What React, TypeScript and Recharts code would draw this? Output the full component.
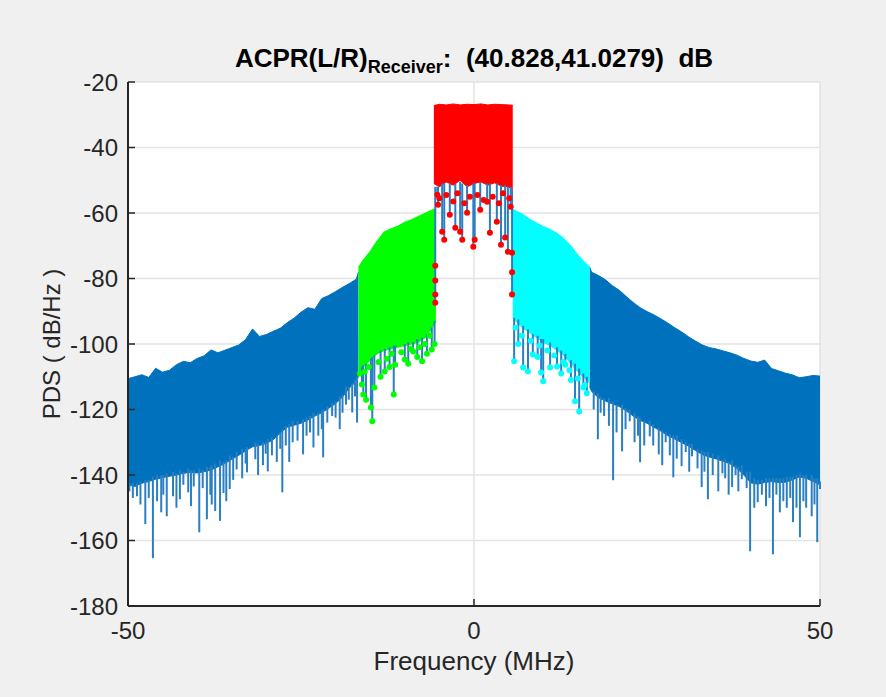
import React from "react";
import { ComposedChart, Area, Scatter, ErrorBar, XAxis, YAxis, CartesianGrid } from "recharts";

// Outer skirts (MHz / dB/Hz): upper and lower edge of the dense trace
const leftFreq = [-50, -49, -48, -47, -46, -45, -44, -43, -42, -41, -40, -39, -38, -37, -36, -35, -34, -33, -32, -31, -30, -29, -28, -27, -26, -25, -24, -23, -22, -21, -20, -19, -18, -17, -16.7];
const leftUpper = [-110.6, -110, -109.4, -110.2, -107.4, -108.6, -108, -106.3, -105.3, -105.7, -104.4, -103.6, -101.8, -102.7, -101.9, -101.1, -100.3, -98.6, -95.4, -97.7, -97.1, -96.1, -95.2, -93.5, -92.1, -90.3, -88.9, -89.4, -86.1, -85.2, -84, -82.7, -81.5, -80.2, -78];
const leftLower = [-143, -143.5, -142.5, -142, -141.3, -140.8, -140.4, -140, -139.5, -139.2, -139.4, -139, -138.5, -137.5, -136.5, -135.2, -134, -132.6, -131.4, -131, -130.4, -129.2, -127.2, -125.4, -124.8, -124.2, -123.2, -122, -121, -119.6, -118.2, -116.2, -113.4, -111.4, -110];

const rightFreq = [16.7, 17, 18, 19, 20, 21, 22, 23, 24, 25, 26, 27, 28, 29, 30, 31, 32, 33, 34, 35, 36, 37, 38, 39, 40, 41, 42, 43, 44, 45, 46, 47, 48, 49, 50];
const rightUpper = [-76.5, -78.1, -79.1, -80.4, -82.2, -83.6, -85.5, -87.3, -88.9, -90.1, -91.1, -92.3, -93.6, -95, -96.3, -97.8, -99.1, -100.3, -101.1, -101.5, -102.1, -102.7, -103.4, -104.4, -105.2, -105.6, -104.9, -107.5, -108.2, -108.9, -109.4, -110.3, -110, -109.6, -109.8];
const rightLower = [-113, -114.5, -116.4, -117.4, -118.3, -119.1, -120.4, -122, -123.3, -124.2, -125.4, -126.6, -128, -129, -130.1, -131.2, -132.5, -133.8, -134.5, -135.1, -135.8, -136.6, -138, -140, -142.4, -142.8, -142.3, -142, -142.3, -142.2, -141.5, -140.6, -141, -142, -143];

// Adjacent channels and main channel
const greenFreq = [-16.7, -16, -15, -14, -13, -12, -11, -10, -9, -8, -7, -6, -5.5];
const greenUpper = [-76.6, -74.3, -71.7, -68.5, -65.8, -64.8, -64, -62.8, -62, -61, -60, -59, -58.6];
const greenLower = [-110, -107, -105, -103, -102, -101.5, -101, -100.5, -100, -99.5, -98, -95, -93];

const cyanFreq = [5.6, 6, 7, 8, 9, 10, 11, 12, 13, 14, 15, 16, 16.7];
const cyanUpper = [-58.8, -59.3, -60.3, -61.8, -63, -64.1, -65, -66.2, -67.8, -70, -72.8, -75, -76.5];
const cyanLower = [-92, -93, -95, -96.5, -98, -99.5, -100.5, -102, -103.5, -106, -108.5, -110.5, -112];

const redFreq = [-5.8, -5, -4, -3, -2, -1, 0, 1, 2, 3, 4, 5, 5.6];
const redUpper = [-27.2, -26.8, -27, -26.7, -27, -26.8, -26.9, -26.7, -27, -26.8, -26.9, -27, -27.1];
const redLower = [-51, -52, -50.5, -51.5, -50, -52, -51, -50.5, -51.5, -50.8, -51.8, -52, -53];

// Deep nulls: [freq, tip, start]
const leftSpikes = [
  [-50, -150, -142], [-49.8, -145, -142.5], [-49.3, -147, -142.5], [-48.7, -146.5, -142.5], [-48.2, -149, -142],
  [-47.5, -155, -141.5], [-47, -147, -141.5], [-46.4, -165.4, -140.5], [-45.8, -148, -140], [-45.2, -151.4, -140],
  [-44.9, -146, -140], [-44.4, -152.6, -139.5], [-43.5, -146.5, -139], [-43, -150, -139.5], [-42.5, -147.4, -138.5],
  [-42, -143, -139], [-41.3, -145.3, -138], [-40.9, -149.5, -138.5], [-40.5, -143.5, -138.5], [-39.7, -157.5, -138],
  [-39.2, -144, -138.5], [-38.6, -153.5, -137.5], [-38.1, -146, -137.5], [-37.9, -149, -137], [-37.4, -151, -136.5],
  [-36.7, -154, -135.5], [-36.2, -145.5, -136], [-35.8, -148, -135.5], [-35.3, -144.3, -134], [-34.8, -141.5, -134.5],
  [-34.3, -138.3, -133], [-33.5, -141, -132], [-33, -136.5, -132], [-32.8, -139.2, -131.5], [-31.6, -135.2, -130],
  [-31.2, -140, -130.5], [-30.5, -137, -130], [-30.1, -133.5, -130], [-29.8, -138.9, -129], [-29.2, -134, -128.5],
  [-28.5, -136, -128], [-28, -132, -127], [-27.7, -145.3, -126], [-27.2, -131, -125], [-26.7, -136, -124.5],
  [-26.2, -130, -123.5], [-25.5, -129.5, -123.5], [-24.7, -133.7, -123], [-24.2, -128, -122.5], [-23.7, -127, -122],
  [-23.2, -131.6, -121], [-22.5, -128, -121], [-22, -126, -120.5], [-21.8, -134.6, -120], [-21.2, -124, -119],
  [-20.5, -122, -118], [-20, -122.5, -117.5], [-19.4, -126, -116], [-19, -121, -115.5], [-18.5, -118.5, -113],
  [-18.1, -117, -113], [-17.6, -120.9, -112], [-17.2, -116, -111], [-16.9, -124, -110],
];
const rightSpikes = [
  [17.3, -120, -114.5], [17.9, -129.1, -115], [18.3, -121, -116], [18.8, -122, -116.5], [19.5, -125, -116.5],
  [20.1, -141.6, -117.5], [20.6, -127, -118.5], [21.4, -132.8, -118.5], [21.9, -126, -119.5], [22.5, -123.6, -120],
  [23.2, -130, -121], [23.7, -128, -122], [24, -136.1, -122.5], [24.6, -131, -123.5], [25.4, -128.2, -123.5],
  [25.9, -131, -124.5], [26.7, -133.7, -125.5], [27.2, -137, -126.5], [27.7, -130, -127], [28.3, -134, -127.5],
  [28.8, -140.7, -128], [29.3, -135, -128], [30, -137.3, -129], [30.6, -133, -130], [31.1, -139, -130.5],
  [31.5, -134.3, -130.5], [32.3, -138, -132], [32.9, -143.7, -132.5], [33.3, -139, -133], [33.8, -147.4, -133],
  [34.5, -140, -133.5], [35.3, -145, -134], [35.9, -139.5, -135.5], [36.3, -141, -135], [36.8, -146, -136],
  [37.3, -143.7, -135.5], [37.8, -140, -137], [38.2, -145, -137.5], [38.7, -141.3, -137], [39.4, -144, -139],
  [39.9, -163.3, -139], [40.5, -150, -141], [41, -148.3, -141.5], [41.6, -146, -141.5], [42.2, -149.5, -141],
  [42.7, -147, -141], [43.2, -164.2, -141], [43.7, -146, -141], [44.2, -151.4, -141], [44.7, -148, -141],
  [45.2, -150, -140.5], [45.7, -147, -140.5], [46.1, -154.4, -140.5], [46.6, -150, -140], [47.1, -159, -139.5],
  [47.6, -148, -140], [48, -150, -140], [48.8, -152.6, -140], [49.2, -149, -141], [49.6, -160.5, -141],
  [50, -144.3, -142],
];
const greenSpikes = [
  [-16.2, -112.4, -107], [-16, -115.4, -106.5], [-15.6, -117, -106], [-14.9, -119.4, -104.5], [-14.7, -123.6, -104],
  [-14.4, -113.3, -103.5], [-13.5, -110, -102], [-12.9, -108.4, -101.5], [-12.2, -107, -101], [-11.6, -115.4, -100.5],
  [-11.4, -106.3, -100.5], [-10, -104.7, -100], [-9.5, -106, -99.5], [-8.8, -102.3, -99.5], [-8.2, -104, -98.5],
  [-7.5, -105.3, -98], [-6.8, -103, -97], [-6.1, -101.7, -95], [-5.7, -100, -93],
];
const cyanSpikes = [
  [5.8, -105.3, -92], [6.4, -100, -92.5], [7.1, -107.2, -94.5], [7.8, -108.4, -95.5], [8.5, -103.2, -97],
  [9.2, -104, -97.5], [9.7, -108.7, -98.5], [10, -111.4, -98.5], [11, -107.2, -99.5], [12, -106.9, -101],
  [12.6, -109, -102], [13.2, -106.3, -103], [14, -111, -105], [14.6, -117.5, -106], [15.2, -120.6, -107.5],
  [15.8, -113.3, -109], [16.3, -115, -110],
];
const redSpikes = [
  [-5.6, -87.4, -52], [-5.3, -54.4, -52], [-5.2, -57.5, -52], [-4.6, -65.7, -51], [-4.3, -68.2, -51], [-3.5, -60.5, -51],
  [-2.7, -64.5, -51], [-2, -65.7, -50.5], [-1.7, -68.2, -51], [-1, -59.9, -51.5], [-0.1, -70.3, -51], [0.1, -68.2, -51],
  [0.9, -59, -50.5], [1.9, -56.6, -51], [2.3, -66, -51], [3.3, -62.7, -51], [3.9, -69.7, -51.5], [4.5, -67.5, -51.5],
  [4.9, -71.8, -52], [5.3, -58.1, -52], [5.5, -84.9, -53],
];
// Marker-only samples along the ragged lower edges
const greenDots = [
  [-16.5, -109], [-15.8, -108.5], [-15.2, -107], [-13.8, -105.5], [-12.6, -104.5], [-11.9, -103],
  [-10.5, -102.5], [-9.1, -101.5], [-7.9, -101], [-7.1, -100], [-6.4, -97.5],
];
const cyanDots = [
  [6, -95], [6.9, -97.5], [8.2, -99], [9.5, -100.5], [10.6, -102], [11.6, -103.5],
  [12.9, -105.5], [13.8, -108], [15, -110.5], [16, -112.5],
];
const redDots = [
  [-5.6, -76.1], [-5.6, -80.6], [-5.6, -84.9], [5.5, -72.1], [5.5, -78.1],
  [-5, -55.5], [-4, -54.5], [-3, -56.5], [-2.4, -54], [-1.4, -57], [-0.6, -55],
  [0.5, -54.5], [1.4, -56], [2.7, -55], [3.6, -57], [4.2, -54], [5.1, -55.5],
];

const yTicks = [-180, -160, -140, -120, -100, -80, -60, -40, -20];
const xTicks = [-50, 0, 50];

const band = (freq: number[], lo: number[], hi: number[]) => freq.map((f, i) => ({ f, r: [lo[i], hi[i]] }));
const pts = (s: number[][]) => s.map(([f, v]) => ({ f, v }));
// each null drawn as a vertical segment from its tip up to where it leaves the dense trace
const spikeRows = [...leftSpikes, ...rightSpikes, ...greenSpikes, ...cyanSpikes, ...redSpikes].map(([f, tip, start]) => ({
  f,
  v: tip,
  e: [0, start - tip],
}));

const BLUE = "#0072BD";
const SPIKE = "#2a7fc3";
const FONT = "'Liberation Sans', Arial, sans-serif";
const INK = "#262626";

const YTick = (p: any) => (
  <g>
    <line x1={p.x + 10} x2={p.x + 17} y1={p.y} y2={p.y} stroke={INK} strokeWidth={1.5} />
    <text x={p.x} y={p.y} dy="0.36em" textAnchor="end" fontSize={24} fontFamily={FONT} fill={INK}>
      {p.payload.value}
    </text>
  </g>
);

const XTick = (p: any) => (
  <g>
    <line x1={p.x} x2={p.x} y1={p.y - 8} y2={p.y - 15} stroke={INK} strokeWidth={1.5} />
    <text x={p.x} y={p.y + 25} textAnchor="middle" fontSize={24} fontFamily={FONT} fill={INK}>
      {p.payload.value}
    </text>
  </g>
);

const dot = (color: string) => (p: any) => <circle cx={p.cx} cy={p.cy} r={3} fill={color} />;
const noMark = () => <g />;

export default function App() {
  return (
    <div style={{ position: "absolute", left: 0, top: 0, width: 886, height: 697, background: "#f0f0f0", fontFamily: FONT }}>
      <div style={{ position: "absolute", left: 0, width: 948, top: 43, textAlign: "center", fontSize: 26, fontWeight: "bold", color: "#000" }}>
        ACPR(L/R)<sub style={{ fontSize: 18 }}>Receiver</sub>:&nbsp; (40.828,41.0279)&nbsp; dB
      </div>
      <ComposedChart width={886} height={697} margin={{ top: 82, right: 66, bottom: 51, left: 68 }}>
        <CartesianGrid stroke="#e3e3e3" strokeWidth={1.5} fill="#ffffff" fillOpacity={1} />
        <XAxis
          type="number"
          dataKey="f"
          domain={[-50, 50]}
          ticks={xTicks}
          allowDataOverflow
          height={40}
          tickSize={0}
          tickMargin={8}
          tick={<XTick />}
          axisLine={{ stroke: INK, strokeWidth: 2 }}
        />
        <YAxis
          type="number"
          domain={[-180, -20]}
          ticks={yTicks}
          allowDataOverflow
          width={60}
          tickSize={0}
          tickMargin={10}
          tick={<YTick />}
          axisLine={{ stroke: INK, strokeWidth: 2 }}
        />
        <Area data={band(leftFreq, leftLower, leftUpper)} dataKey="r" type="linear" stroke={BLUE} strokeWidth={1} fill={BLUE} fillOpacity={1} dot={false} activeDot={false} isAnimationActive={false} />
        <Area data={band(rightFreq, rightLower, rightUpper)} dataKey="r" type="linear" stroke={BLUE} strokeWidth={1} fill={BLUE} fillOpacity={1} dot={false} activeDot={false} isAnimationActive={false} />
        <Area data={band(greenFreq, greenLower, greenUpper)} dataKey="r" type="linear" stroke="#00ff00" strokeWidth={1} fill="#00ff00" fillOpacity={1} dot={false} activeDot={false} isAnimationActive={false} />
        <Area data={band(cyanFreq, cyanLower, cyanUpper)} dataKey="r" type="linear" stroke="#00ffff" strokeWidth={1} fill="#00ffff" fillOpacity={1} dot={false} activeDot={false} isAnimationActive={false} />
        <Area data={band(redFreq, redLower, redUpper)} dataKey="r" type="linear" stroke="#ff0000" strokeWidth={1} fill="#ff0000" fillOpacity={1} dot={false} activeDot={false} isAnimationActive={false} />
        <Scatter data={spikeRows} dataKey="v" shape={noMark} isAnimationActive={false}>
          <ErrorBar dataKey="e" direction="y" width={0} stroke={SPIKE} strokeWidth={2} isAnimationActive={false} />
        </Scatter>
        <Scatter data={[...pts(greenSpikes), ...pts(greenDots)]} dataKey="v" shape={dot("#00ff00")} isAnimationActive={false} />
        <Scatter data={[...pts(cyanSpikes), ...pts(cyanDots)]} dataKey="v" shape={dot("#00ffff")} isAnimationActive={false} />
        <Scatter data={[...pts(redSpikes), ...pts(redDots)]} dataKey="v" shape={dot("#ff0000")} isAnimationActive={false} />
      </ComposedChart>
      <div style={{ position: "absolute", left: 0, width: 948, top: 646, textAlign: "center", fontSize: 26, color: INK }}>
        Frequency (MHz)
      </div>
      <div
        style={{
          position: "absolute",
          left: 52,
          top: 344,
          transform: "translate(-50%, -50%) rotate(-90deg)",
          whiteSpace: "nowrap",
          fontSize: 24,
          color: INK,
        }}
      >
        PDS ( dB/Hz )
      </div>
    </div>
  );
}
